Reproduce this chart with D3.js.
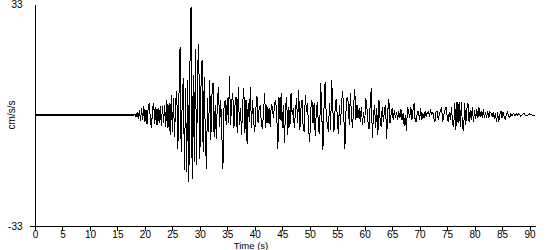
<!DOCTYPE html>
<html>
<head>
    <meta charset="utf-8">
    <title>Accelerogram</title>
    <style>
        body { margin: 0; background: #fff; }
        text { font-family: Arial, "Liberation Sans", sans-serif; font-size: 10px; fill: #000; }
        .axis path, .axis line { stroke: #000; stroke-width: 1px; shape-rendering: crispEdges; }
        .trace { fill: none; stroke: #000; stroke-width: 1px; shape-rendering: crispEdges; }
    </style>
    <script src="https://d3js.org/d3.v7.min.js"></script>
</head>
<body>
    <div id="chart"></div>
    <script>
        // quiet part before the first arrival (s, cm/s/s)
        const quietTimes = [0, 18];
        const quietValues = [0, 0];

        // recorded motion, one value every 0.2 s from t = 18 s
        const startTime = 18;
        const dt = 0.2;
        const accel = [
            0, 0.2, -0.6, 1.0, -1.2, 1.6, -1.8, 2.0, -1.4, 2.7,
            -2.2, 1.4, -2.8, 2.2, 3.6, -1.5, -3.9, 2.0, 3.5, -2.6,
            2.4, -3.0, 2.0, -2.5, 2.6, -3.2, 2.8, -2.4, 3.0, -3.5,
            4.5, -4.0, 3.5, -6.0, 6.0, -5.0, 5.0, -6.5, 4.0, 7.0,
            -10.0, 6.0, 20.2, -11.0, 5.0, 11.0, -16.4, 8.0, -17.0, 10.4,
            -20.0, 15.0, 32.0, -19.0, 12.0, -14.0, 19.6, -15.0, 14.0, 21.0,
            -13.0, 8.0, 16.3, -11.0, 11.3, -6.0, -16.0, 5.0, -5.0, 10.4,
            -7.4, 6.0, 9.5, -6.5, 3.0, -7.0, 4.5, 8.3, -3.5, 4.5,
            -5.4, -16.0, 2.0, 4.5, -3.0, 5.0, -2.5, 11.6, -3.0, 4.0,
            6.5, -4.0, 3.0, 5.4, -5.4, 8.3, -3.0, 2.0, -6.0, 3.5,
            7.9, -5.4, 4.5, -8.6, 3.5, -2.0, 8.3, -3.9, 4.5, -2.0,
            -5.0, 2.0, 5.6, -2.5, 2.0, 3.0, -3.0, -3.7, 1.0, 6.4,
            -4.0, 3.0, -2.5, 2.0, -3.5, 3.0, 2.5, -1.0, 3.2, 4.5,
            0, -10.2, 5.4, -1.5, 6.4, -4.0, 3.0, -8.4, 2.0, 5.4,
            -6.0, 2.5, -3.5, 6.4, 0, 2.0, -4.0, 1.0, 5.0, -2.5,
            7.4, -4.5, 2.0, 4.5, -3.5, -5.0, 6.0, 1.0, 3.5, -4.5,
            -8.0, 2.0, 4.5, -2.5, 3.5, -6.2, 1.0, 4.0, -4.5, -5.5,
            9.6, 0, -10.4, 2.0, 9.9, 0, -3.0, -5.0, 3.5, -4.5,
            10.4, 2.0, -5.0, 1.0, 4.7, 0, -5.5, 3.0, -3.0, 4.0,
            7.0, 0, -10.0, 1.0, 5.2, 4.0, -3.0, 6.4, 0, -4.0,
            3.0, 7.6, -1.5, 3.0, -1.0, 2.0, -2.0, 2.5, -3.0, 1.0,
            -2.5, 5.0, 2.5, -2.0, -4.3, 3.0, 7.9, -6.9, 0, 3.0,
            -4.0, 2.0, -6.0, 4.5, -1.0, -3.5, 2.5, -2.0, 1.5, 3.0,
            -7.0, 1.0, 4.7, -2.5, 0, 2.0, -1.5, 1.5, -1.0, 1.0,
            -1.5, 1.2, -1.0, 1.8, -1.5, 0.5, -3.3, 0, -4.7, 2.5,
            1.0, -1.0, 2.5, -1.5, 1.5, 3.5, -2.0, -2.0, 1.0, 1.0,
            -1.5, 2.0, -1.5, 0.5, -1.0, 1.2, -0.5, 0.8, 1.0, 0,
            1.2, 0.3, 0.8, -1.0, -2.0, 1.2, 1.0, -1.5, 0.5, 1.2,
            2.3, -2.0, 0, 1.5, 2.3, 0, -2.0, 1.0, -1.5, 2.3,
            -2.5, -3.5, 3.5, -4.5, 3.9, -2.5, 4.0, -3.5, 4.0, -3.5,
            -4.7, 3.5, -3.0, 2.0, 3.5, -2.0, 1.5, -1.5, 2.5, -2.0,
            1.5, -1.2, 1.8, -1.0, 2.3, -0.5, 1.2, -0.8, 1.8, -1.0,
            0.8, -0.8, 1.2, -1.0, 1.0, 0.5, -0.5, 0.9, -1.2, 0.5,
            -2.0, 0.8, -2.0, 0, 1.2, -0.8, 1.0, -0.5, -1.5, 0.3,
            0.9, -0.5, -0.8, 0.5, -0.2, 0.3, 0.3, -0.2, 0.5, 0,
            0.3, 0.2, -0.3, 0, 0.3, 0.5, 0, -0.2, -0.2, 0.2,
            0.3, 0.1, 0, 0, 0, 0
        ];

        const xTicks = d3.range(0, 95, 5);
        const yTicks = [-33, 33];

        const width = 550;
        const height = 250;
        const margin = {top: 4, right: 14, bottom: 24, left: 35};

        const x = d3.scaleLinear()
            .domain([0, 90])
            .range([margin.left, 529.5]);

        const y = d3.scaleLinear()
            .domain([-33, 33])
            .range([height - margin.bottom, margin.top]);

        const svg = d3.select("#chart").append("svg")
            .attr("width", width)
            .attr("height", height);

        const quiet = quietTimes.map((t, i) => [t, quietValues[i]]);
        const record = accel.map((v, i) => [startTime + i * dt, v]);
        const recordEnd = startTime + (accel.length - 1) * dt;

        const line = d3.line()
            .x(d => x(d[0]))
            .y(d => y(d[1]));

        // x axis, drawn out to the end of the record
        const xAxis = svg.append("g")
            .attr("class", "axis")
            .attr("transform", `translate(0,${y(-33) + 0.5})`)
            .call(d3.axisBottom(x).tickValues(xTicks).tickSize(4).tickSizeOuter(0).tickPadding(0));
        xAxis.select(".domain").attr("d", `M${x(0)},0H${x(recordEnd) + 1}`);
        xAxis.selectAll("text").attr("font-family", null).attr("font-size", null);

        // y axis: only the end labels
        const yAxis = svg.append("g")
            .attr("class", "axis")
            .attr("transform", `translate(${x(0) - 0.5},0)`)
            .call(d3.axisLeft(y).tickValues(yTicks).tickFormat(d => String(d))
                .tickSize(0).tickSizeOuter(0).tickPadding(12));
        yAxis.selectAll("text").attr("font-family", null).attr("font-size", null);
        yAxis.selectAll(".tick").filter(d => d === -33)
            .append("line").attr("x1", -5).attr("x2", 0);

        svg.append("path")
            .datum(quiet)
            .attr("class", "trace")
            .style("stroke-width", "2px")
            .attr("d", line);

        svg.append("path")
            .datum(record)
            .attr("class", "trace")
            .attr("d", line);

        svg.append("text")
            .attr("transform", `translate(15,${y(0)}) rotate(-90)`)
            .attr("text-anchor", "middle")
            .text("cm/s/s");

        svg.append("text")
            .attr("x", 251)
            .attr("y", 248.8)
            .attr("text-anchor", "middle")
            .style("font-size", "9.5px")
            .text("Time (s)");
    </script>
</body>
</html>
